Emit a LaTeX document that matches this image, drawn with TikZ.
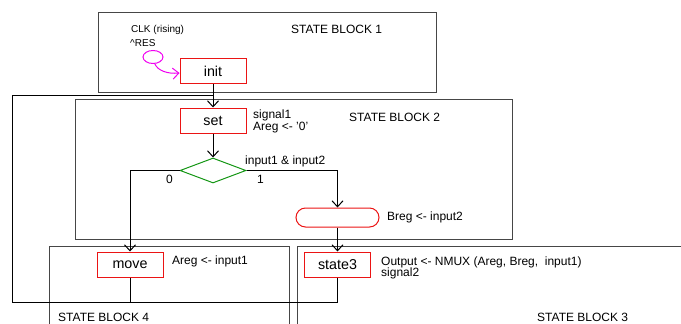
\documentclass[tikz,border=0pt]{standalone}
\usepackage{fontspec}
\setmainfont{Liberation Sans}
\usetikzlibrary{arrows.meta,shapes.geometric,shapes.misc}
\definecolor{boxred}{RGB}{235,20,20}
\definecolor{dgreen}{RGB}{20,150,20}
\definecolor{blockgray}{RGB}{70,70,70}
\definecolor{mag}{RGB}{240,0,240}
\tikzset{
  statebox/.style={draw=boxred, line width=1pt, minimum width=66pt, minimum height=25pt, inner sep=0pt, font=\fontsize{14.3}{16}\selectfont},
  decbox/.style={draw=dgreen, line width=1pt, diamond, minimum width=66pt, minimum height=25pt, inner sep=0pt},
  ovalbox/.style={draw=boxred, line width=1pt, rounded rectangle, minimum width=83pt, minimum height=19pt, inner sep=0pt},
  lbl/.style={anchor=west, inner sep=0pt, font=\fontsize{12}{14}\selectfont},
  small/.style={anchor=west, inner sep=0pt, font=\fontsize{10}{12}\selectfont},
  blk/.style={draw=blockgray, line width=1pt},
  flow/.style={draw=black, line width=1pt},
  arr/.style={-{Straight Barb[length=6pt,width=11pt]}}
}
\begin{document}
\begin{tikzpicture}[x=1pt,y=-1pt]
\useasboundingbox (0,0) rectangle (681,324);
% state blocks
\draw[blk] (98,12) rectangle (436,92);
\draw[blk] (75,99.5) rectangle (512,239);
\draw[blk] (49,324) -- (49,246) -- (289,246) -- (289,324);
\draw[blk] (297,324) -- (297,246) -- (681,246);
% nodes
\node[statebox] (init) at (213,71) {init};
\node[statebox] (set) at (213,120.5) {set};
\node[decbox] (dec) at (213,170.5) {};
\node[ovalbox] (breg) at (337.5,217.5) {};
\node[statebox] (move) at (130,264.5) {move};
\node[statebox] (state3) at (337.5,264.5) {state3};
\node[draw=mag, line width=1pt, ellipse, minimum width=20pt, minimum height=13pt, inner sep=0pt] (res) at (153,57) {};
% coordinates of feedback path
\coordinate (bl) at (12,302);
\coordinate (jt) at (213,95.5);
% connectors
\draw[flow,arr] (init.south) -- (set.north);
\draw[flow,arr] (set.south) -- (dec.north);
\draw[flow,arr] (dec.west) -| (move.north);
\draw[flow,arr] (dec.east) -| (breg.north);
\draw[flow,arr] (breg.south) -- (state3.north);
\draw[flow] (state3.south) |- (bl) |- (jt);
\draw[flow] (move.south) -- (move.south |- bl);
\draw[draw=mag, line width=1pt, arr] (res.-75) .. controls (158,71) and (168,74) .. ([yshift=-2pt]init.west);
% texts
\node[lbl] (t1) at (291,29) {STATE BLOCK 1};
\node[small] (clk) at (131,30) {CLK (rising)};
\node[small] (rs) at (130,43) {\textasciicircum RES};
\node[lbl] (s1) at (253,115) {signal1};
\node[lbl] (s1b) at (253,128) {Areg <- '0'};
\node[lbl] (t2) at (349,117) {STATE BLOCK 2};
\node[lbl] (cond) at (245,161) {input1 \& input2};
\node[lbl] (zero) at (166,179) {0};
\node[lbl] (one) at (257,179) {1};
\node[lbl] (bl2) at (387,217) {Breg <- input2};
\node[lbl] (al) at (172,261) {Areg <- input1};
\node[lbl] (out) at (381,262) {Output <- NMUX (Areg, Breg,\ \ input1)};
\node[lbl] (s2) at (381,273.5) {signal2};
\node[lbl] (t4) at (58,317) {STATE BLOCK 4};
\node[lbl] (t3) at (537,317) {STATE BLOCK 3};
\end{tikzpicture}
\end{document}
